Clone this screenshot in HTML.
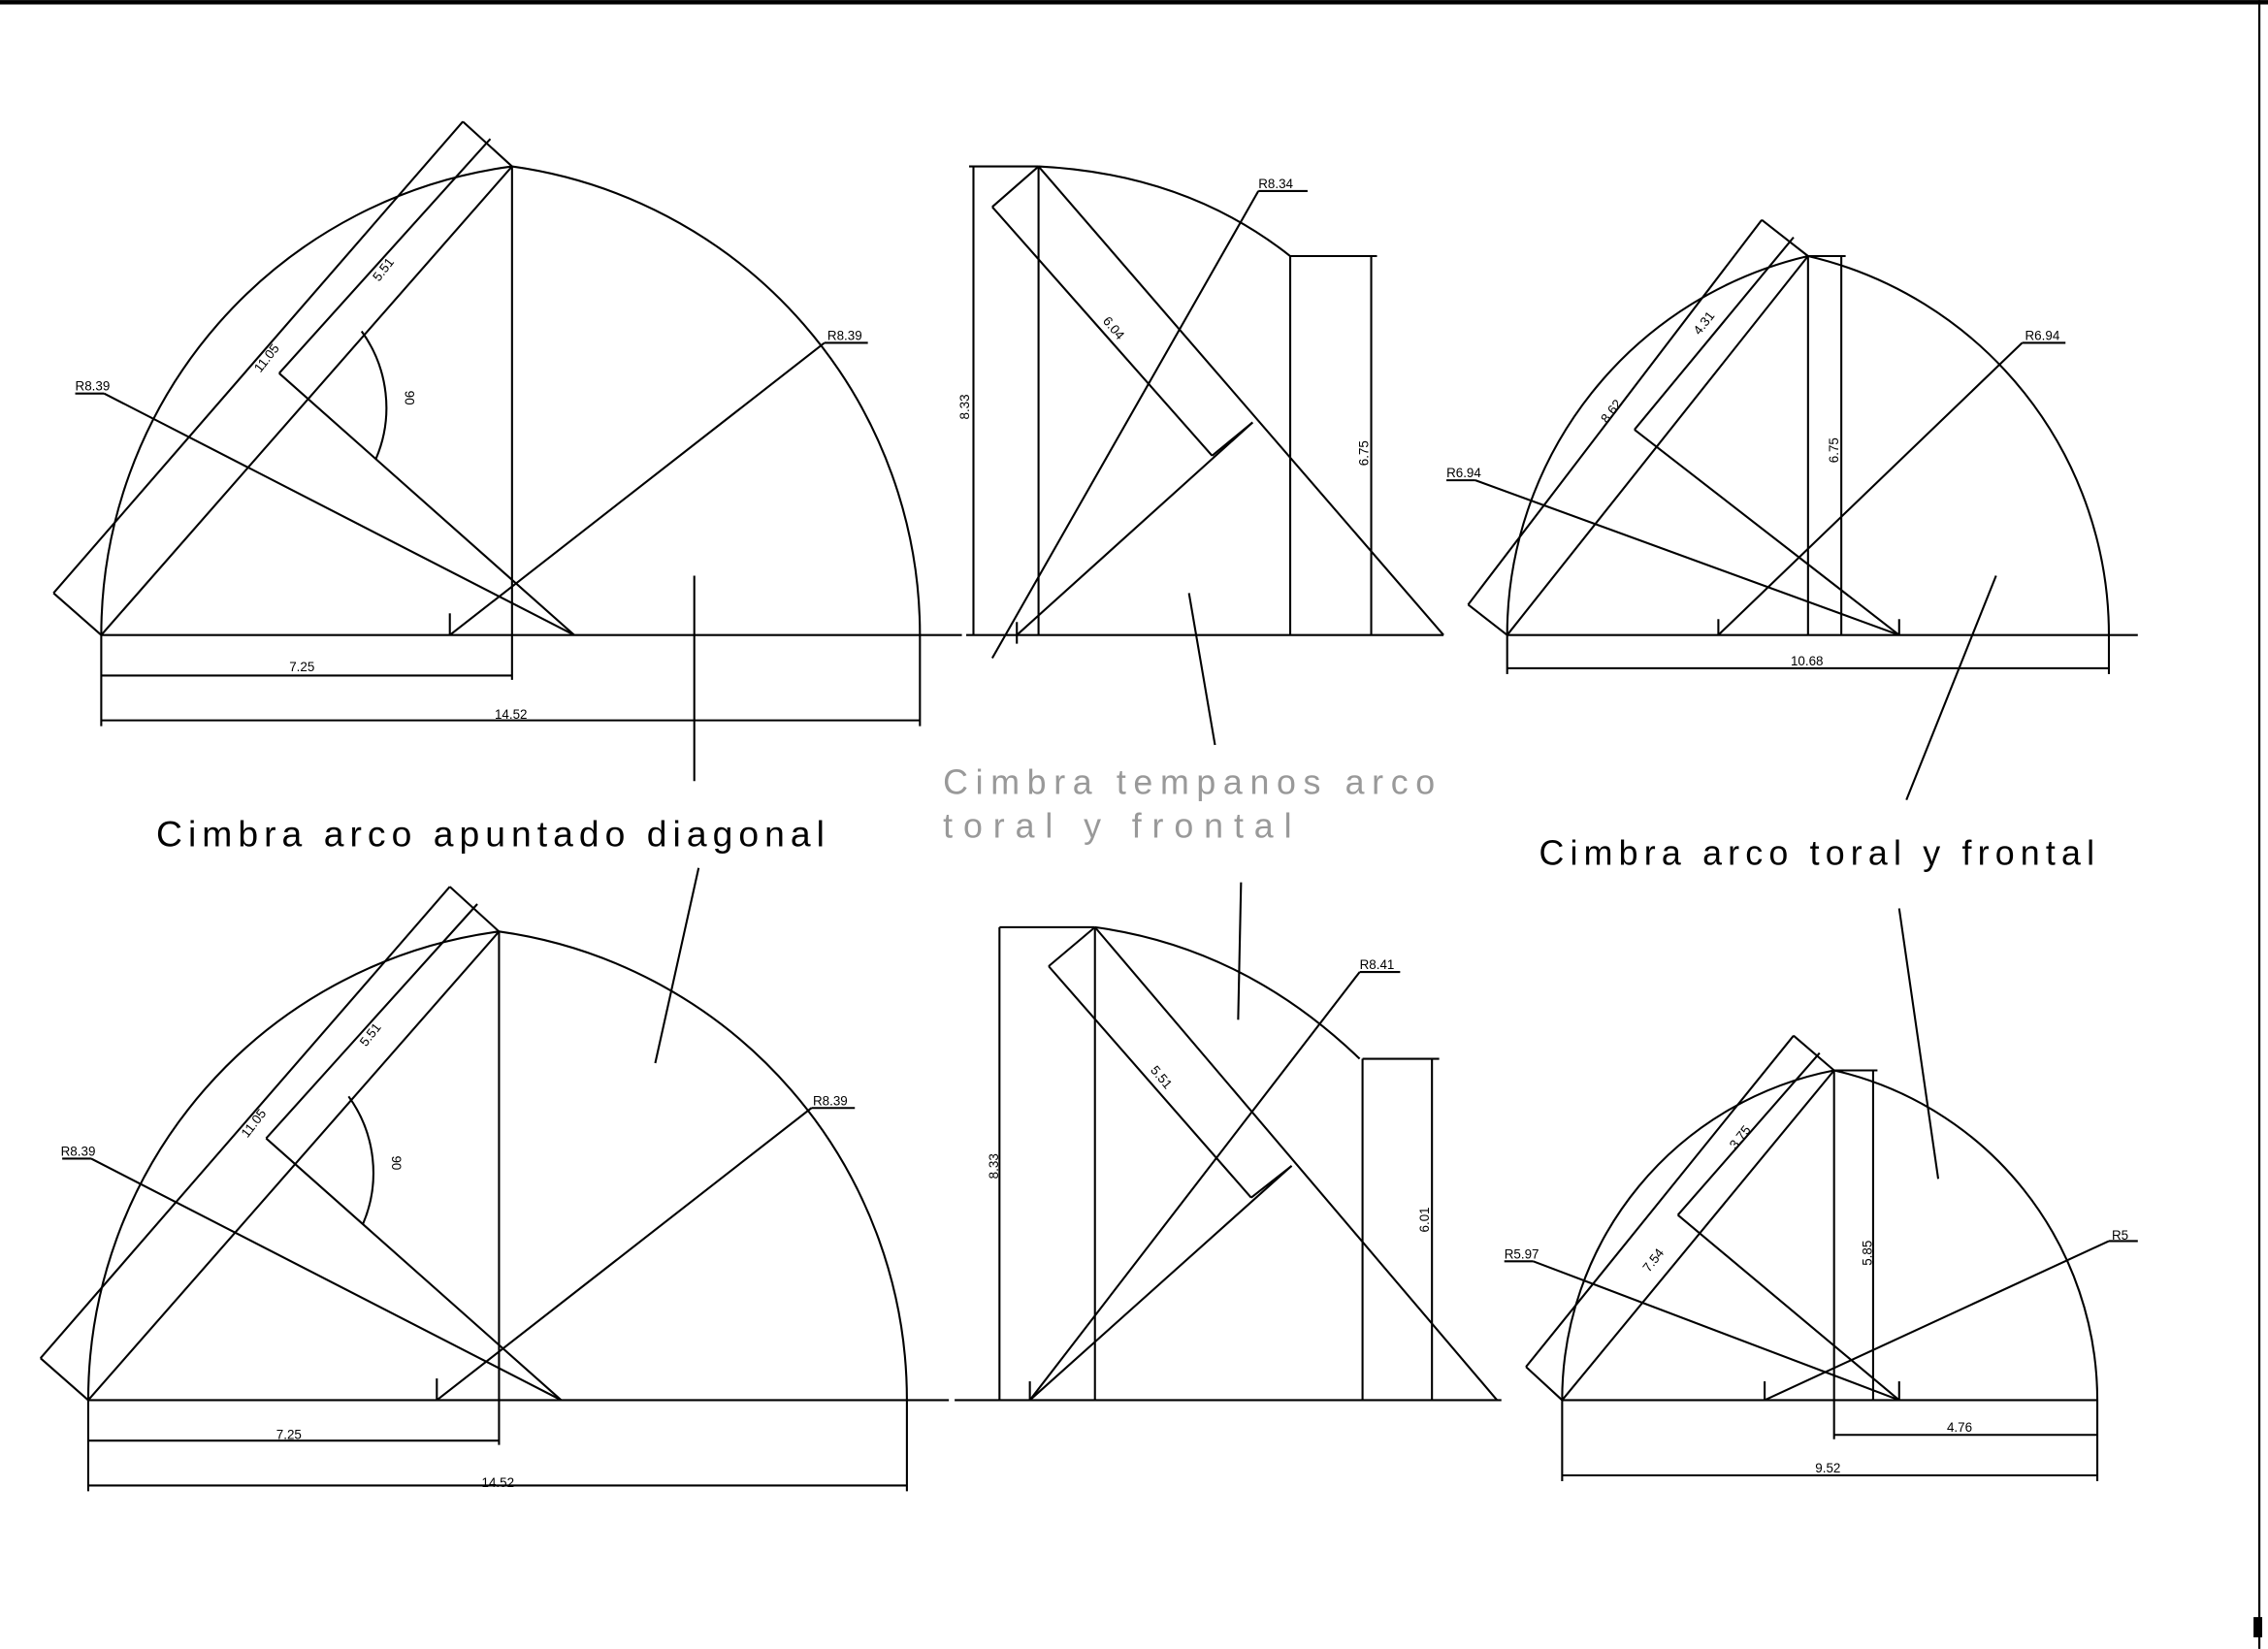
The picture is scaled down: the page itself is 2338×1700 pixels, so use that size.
<!DOCTYPE html>
<html><head><meta charset="utf-8"><style>
html,body{margin:0;padding:0;background:#fff;}
svg{display:block;}
text{font-family:"Liberation Sans",sans-serif;fill:#000;}
</style></head><body>
<svg width="2338" height="1700" viewBox="0 0 1568 1140" xmlns="http://www.w3.org/2000/svg">
<rect x="0" y="0" width="1568" height="1140" fill="#fff"/>
<rect x="0" y="0" width="1568" height="3" fill="#000"/>
<line x1="1562" y1="0" x2="1562" y2="1140" stroke="#000" stroke-width="1.5"/>
<rect x="1558" y="1118" width="6" height="14" fill="#000"/>
<g fill="none" stroke="#000" stroke-width="1.4">
<g id="d1">
<path d="M70,439 A326.8,326.8 0 0 1 354,115 A327,327 0 0 1 636,439"/>
<line x1="70" y1="439" x2="665" y2="439"/>
<line x1="354" y1="115" x2="354" y2="470"/>
<line x1="70" y1="439" x2="354" y2="115"/>
<line x1="37" y1="410" x2="320" y2="84"/>
<line x1="37" y1="410" x2="70" y2="439"/>
<line x1="320" y1="84" x2="354" y2="115"/>
<line x1="193" y1="258" x2="339" y2="96"/>
<line x1="193" y1="258" x2="397" y2="439"/>
<path d="M250,229 A90,90 0 0 1 260,317"/>
<line x1="72" y1="272" x2="397" y2="439"/>
<line x1="52" y1="272" x2="72" y2="272"/>
<line x1="570" y1="237" x2="311" y2="439"/>
<line x1="570" y1="237" x2="600" y2="237"/>
<line x1="311" y1="424" x2="311" y2="439"/>
<line x1="70" y1="439" x2="70" y2="502"/>
<line x1="636" y1="439" x2="636" y2="502"/>
<line x1="70" y1="467" x2="354" y2="467"/>
<line x1="70" y1="498" x2="636" y2="498"/>
</g>
<line x1="480" y1="398" x2="480" y2="540"/>
<use href="#d1" transform="translate(-9,529)"/>
<line x1="483" y1="600" x2="453" y2="735"/>
<line x1="668" y1="439" x2="998" y2="439"/>
<line x1="673" y1="115" x2="673" y2="439"/>
<line x1="670" y1="115" x2="718" y2="115"/>
<path d="M718,115 Q820,120 892,177"/>
<line x1="892" y1="177" x2="892" y2="439"/>
<line x1="892" y1="177" x2="952" y2="177"/>
<line x1="948" y1="177" x2="948" y2="439"/>
<line x1="718" y1="115" x2="998" y2="439"/>
<line x1="718" y1="115" x2="718" y2="439"/>
<line x1="686" y1="455" x2="870" y2="132"/>
<line x1="870" y1="132" x2="904" y2="132"/>
<line x1="686" y1="143" x2="718" y2="115"/>
<line x1="686" y1="143" x2="838" y2="315"/>
<line x1="838" y1="315" x2="866" y2="292"/>
<line x1="703" y1="439" x2="866" y2="292"/>
<line x1="703" y1="430" x2="703" y2="445"/>
<line x1="822" y1="410" x2="840" y2="515"/>
<line x1="660" y1="968" x2="1038" y2="968"/>
<line x1="691" y1="641" x2="691" y2="968"/>
<line x1="691" y1="641" x2="757" y2="641"/>
<path d="M757,641 Q860,655 940,732"/>
<line x1="942" y1="732" x2="942" y2="968"/>
<line x1="942" y1="732" x2="995" y2="732"/>
<line x1="990" y1="732" x2="990" y2="968"/>
<line x1="757" y1="641" x2="757" y2="968"/>
<line x1="757" y1="641" x2="1035" y2="968"/>
<line x1="725" y1="668" x2="757" y2="641"/>
<line x1="725" y1="668" x2="865" y2="828"/>
<line x1="865" y1="828" x2="893" y2="806"/>
<line x1="712" y1="968" x2="940" y2="672"/>
<line x1="940" y1="672" x2="968" y2="672"/>
<line x1="712" y1="968" x2="893" y2="806"/>
<line x1="712" y1="955" x2="712" y2="968"/>
<line x1="858" y1="610" x2="856" y2="705"/>
<path d="M1042,439 A269,269 0 0 1 1250,177 A269,269 0 0 1 1458,439"/>
<line x1="1042" y1="439" x2="1478" y2="439"/>
<line x1="1250" y1="177" x2="1250" y2="439"/>
<line x1="1273" y1="177" x2="1273" y2="439"/>
<line x1="1250" y1="177" x2="1276" y2="177"/>
<line x1="1042" y1="439" x2="1250" y2="177"/>
<line x1="1015" y1="418" x2="1218" y2="152"/>
<line x1="1015" y1="418" x2="1042" y2="439"/>
<line x1="1218" y1="152" x2="1250" y2="177"/>
<line x1="1130" y1="297" x2="1240" y2="164"/>
<line x1="1130" y1="297" x2="1313" y2="439"/>
<line x1="1020" y1="332" x2="1313" y2="439"/>
<line x1="1000" y1="332" x2="1020" y2="332"/>
<line x1="1398" y1="237" x2="1188" y2="439"/>
<line x1="1398" y1="237" x2="1428" y2="237"/>
<line x1="1188" y1="428" x2="1188" y2="439"/>
<line x1="1313" y1="428" x2="1313" y2="439"/>
<line x1="1042" y1="439" x2="1042" y2="466"/>
<line x1="1458" y1="439" x2="1458" y2="466"/>
<line x1="1042" y1="462" x2="1458" y2="462"/>
<line x1="1380" y1="398" x2="1318" y2="553"/>
<path d="M1080,968 A232,232 0 0 1 1268,740 A234,234 0 0 1 1450,968"/>
<line x1="1080" y1="968" x2="1450" y2="968"/>
<line x1="1268" y1="740" x2="1268" y2="995"/>
<line x1="1295" y1="740" x2="1295" y2="968"/>
<line x1="1268" y1="740" x2="1298" y2="740"/>
<line x1="1080" y1="968" x2="1268" y2="740"/>
<line x1="1055" y1="945" x2="1240" y2="716"/>
<line x1="1055" y1="945" x2="1080" y2="968"/>
<line x1="1240" y1="716" x2="1268" y2="740"/>
<line x1="1160" y1="840" x2="1258" y2="728"/>
<line x1="1160" y1="840" x2="1313" y2="968"/>
<line x1="1060" y1="872" x2="1313" y2="968"/>
<line x1="1040" y1="872" x2="1060" y2="872"/>
<line x1="1458" y1="858" x2="1220" y2="968"/>
<line x1="1458" y1="858" x2="1478" y2="858"/>
<line x1="1220" y1="955" x2="1220" y2="968"/>
<line x1="1313" y1="955" x2="1313" y2="968"/>
<line x1="1268" y1="992" x2="1450" y2="992"/>
<line x1="1450" y1="968" x2="1450" y2="1024"/>
<line x1="1080" y1="968" x2="1080" y2="1024"/>
<line x1="1080" y1="1020" x2="1450" y2="1020"/>
<line x1="1313" y1="628" x2="1340" y2="815"/>
</g>
<g font-size="9">
<text x="52" y="270">R8.39</text>
<text x="572" y="235">R8.39</text>
<text x="200" y="464">7.25</text>
<text x="342" y="497">14.52</text>
<text transform="translate(180,258) rotate(-52)">11.05</text>
<text transform="translate(262,195) rotate(-52)">5.51</text>
<text transform="translate(280,270) rotate(90)">90</text>
<text x="42" y="799">R8.39</text>
<text x="562" y="764">R8.39</text>
<text x="191" y="995">7.25</text>
<text x="333" y="1028">14.52</text>
<text transform="translate(171,787) rotate(-52)">11.05</text>
<text transform="translate(253,724) rotate(-52)">5.51</text>
<text transform="translate(271,799) rotate(90)">90</text>
<text x="870" y="130">R8.34</text>
<text transform="translate(670,290) rotate(-90)">8.33</text>
<text transform="translate(762,222) rotate(50)">6.04</text>
<text transform="translate(946,322) rotate(-90)">6.75</text>
<text x="940" y="670">R8.41</text>
<text transform="translate(690,815) rotate(-90)">8.33</text>
<text transform="translate(795,740) rotate(50)">5.51</text>
<text transform="translate(988,852) rotate(-90)">6.01</text>
<text x="1000" y="330">R6.94</text>
<text x="1400" y="235">R6.94</text>
<text x="1238" y="460">10.68</text>
<text transform="translate(1111,293) rotate(-52)">8.62</text>
<text transform="translate(1175,232) rotate(-52)">4.31</text>
<text transform="translate(1271,320) rotate(-90)">6.75</text>
<text x="1040" y="870">R5.97</text>
<text x="1460" y="857">R5</text>
<text transform="translate(1140,880) rotate(-52)">7.54</text>
<text transform="translate(1200,795) rotate(-52)">3.75</text>
<text transform="translate(1294,875) rotate(-90)">5.85</text>
<text x="1346" y="990">4.76</text>
<text x="1255" y="1018">9.52</text>
</g>
<text x="108" y="585" font-size="25" textLength="462" lengthAdjust="spacing">Cimbra arco apuntado diagonal</text>
<text x="652" y="549" font-size="24" style="fill:#999" textLength="340" lengthAdjust="spacing">Cimbra tempanos arco</text>
<text x="652" y="579" font-size="24" style="fill:#999" textLength="241" lengthAdjust="spacing">toral y frontal</text>
<text x="1064" y="598" font-size="24" textLength="384" lengthAdjust="spacing">Cimbra arco toral y frontal</text>
</svg>
</body></html>
